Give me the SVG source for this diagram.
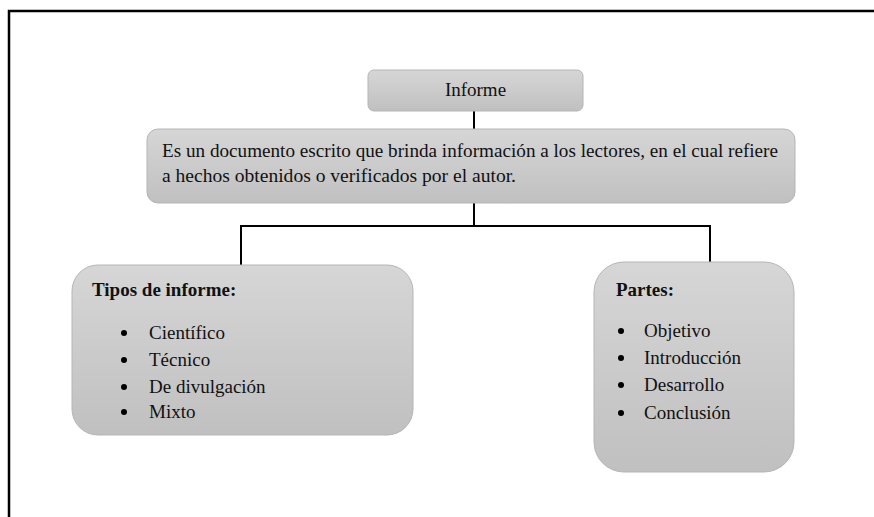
<svg xmlns="http://www.w3.org/2000/svg" width="874" height="517" viewBox="0 0 874 517">
<defs>
<linearGradient id="g" x1="0" y1="0" x2="0" y2="1">
<stop offset="0" stop-color="#d6d6d6"/>
<stop offset="1" stop-color="#c0c0c0"/>
</linearGradient>
</defs>
<style>
.box{fill:url(#g);stroke:#b5b5b5;stroke-width:1}
.t{font-family:"Liberation Serif","Times New Roman",serif;font-size:19px;fill:#111}
.b{font-weight:bold}
.c{fill:none;stroke:#000;stroke-width:2}
.frame{fill:none;stroke:#000;stroke-width:2.5}
.dot{fill:#000}
</style>
<rect width="874" height="517" fill="#fff"/>
<path class="frame" d="M9,517 V11 H874"/>
<g id="connectors">
<line class="c" x1="474" y1="111" x2="474" y2="129"/>
<line class="c" x1="474" y1="203" x2="474" y2="226"/>
<path class="c" d="M241,265 V226 H710 V262"/>
</g>
<g id="informe">
<rect class="box" x="368" y="70" width="215" height="41" rx="6"/>
<text class="t" x="475.5" y="96" text-anchor="middle">Informe</text>
</g>
<g id="definicion">
<rect class="box" x="147" y="129" width="648" height="74" rx="11"/>
<text class="t" x="162" y="157" textLength="616" lengthAdjust="spacingAndGlyphs">Es un documento escrito que brinda información a los lectores, en el cual refiere</text>
<text class="t" x="162" y="182" textLength="354" lengthAdjust="spacingAndGlyphs">a hechos obtenidos o verificados por el autor.</text>
</g>
<g id="tipos">
<rect class="box" x="72" y="265" width="341" height="170" rx="26"/>
<text class="t b" x="92" y="296">Tipos de informe:</text>
<circle class="dot" cx="124" cy="333" r="3"/>
<circle class="dot" cx="124" cy="360" r="3"/>
<circle class="dot" cx="124" cy="387" r="3"/>
<circle class="dot" cx="124" cy="412" r="3"/>
<text class="t" x="149" y="339">Científico</text>
<text class="t" x="149" y="366">Técnico</text>
<text class="t" x="149" y="393">De divulgación</text>
<text class="t" x="149" y="418">Mixto</text>
</g>
<g id="partes">
<rect class="box" x="594" y="262" width="200" height="210" rx="30"/>
<text class="t b" x="616" y="296">Partes:</text>
<circle class="dot" cx="621" cy="331" r="3"/>
<circle class="dot" cx="621" cy="358" r="3"/>
<circle class="dot" cx="621" cy="385" r="3"/>
<circle class="dot" cx="621" cy="413" r="3"/>
<text class="t" x="644" y="337">Objetivo</text>
<text class="t" x="644" y="364">Introducción</text>
<text class="t" x="644" y="391">Desarrollo</text>
<text class="t" x="644" y="419">Conclusión</text>
</g>
</svg>
